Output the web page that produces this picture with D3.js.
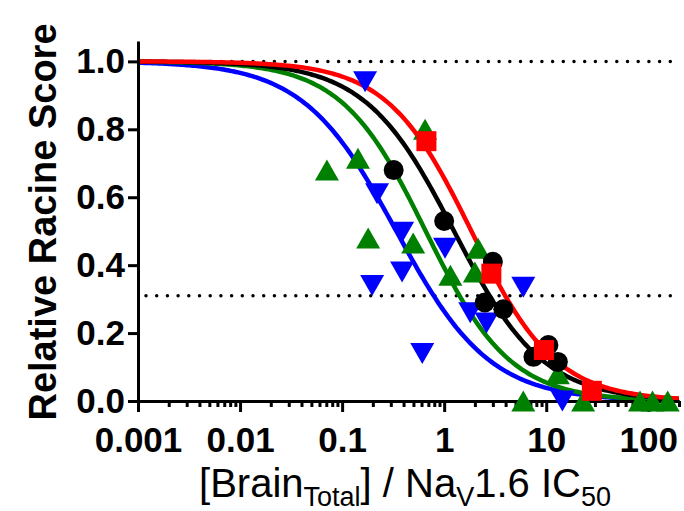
<!DOCTYPE html>
<meta charset="utf-8">
<style>
  body { margin: 0; background: #fff; }
  .axis path, .axis line { stroke: #000; stroke-width: 3px; }
  .axis text { font: bold 35px "Liberation Sans", Arial, sans-serif; fill: #000; }
  .curve { fill: none; stroke-width: 4.5px; }
  .ref { stroke: #000; stroke-width: 3.5px; stroke-linecap: round; stroke-dasharray: 0 10.7; }
</style>
<body>
<script src="https://d3js.org/d3.v7.min.js"></script>
<script>

// data
var xTicks = [0.001, 0.01, 0.1, 1, 10, 100];
var yTicks = [0, 0.2, 0.4, 0.6, 0.8, 1.0];
var refLines = [1.0, 0.31];

var blueX = [0.168, 0.22, 0.197, 0.387, 0.387, 0.61, 1.02, 1.8, 2.6, 5.96, 14.4];
var blueY = [0.94, 0.61, 0.34, 0.497, 0.38, 0.14, 0.45, 0.26, 0.23, 0.335, 0.0];
var greenX = [0.071, 0.143, 0.18, 0.497, 0.65, 1.15, 2.15, 2.0, 5.96, 13, 23, 83, 110, 155];
var greenY = [0.68, 0.715, 0.48, 0.465, 0.80, 0.37, 0.45, 0.38, 0.0, 0.08, 0.0, 0.0, 0.0, 0.0];
var blackX = [0.32, 1.0, 3.0, 2.5, 3.8, 7.5, 10.5, 13];
var blackY = [0.68, 0.53, 0.41, 0.29, 0.27, 0.13, 0.165, 0.115];
var redX = [0.67, 2.9, 9.5, 28];
var redY = [0.765, 0.375, 0.15, 0.03];

// fitted curves: IC50 and hill slope of each
var fitNames = ["blue", "green", "black", "red"];
var fitIC50 = [0.34, 0.66, 1.25, 1.85];
var fitHill = [0.95, 1.05, 1.0, 1.05];

var colors = { blue: "#0000ff", green: "#008000", black: "#000000", red: "#ff0000" };

var margin = {top: 41, left: 138},
    width = 541,
    height = 360;

var svg = d3.select("body").append("svg")
    .attr("width", 684)
    .attr("height", 511);

var g = svg.append("g")
    .attr("transform", "translate(" + margin.left + "," + margin.top + ")");

var x = d3.scaleLog().domain([0.001, 200]).range([0, width]);
var y = d3.scaleLinear().domain([0, 1.06]).range([height, 0]);

// dotted reference lines
g.selectAll(".ref").data(refLines).enter().append("line")
    .attr("class", "ref")
    .attr("x1", 8).attr("x2", width)
    .attr("y1", function(d) { return y(d); })
    .attr("y2", function(d) { return y(d); });

// curves
var line = d3.line()
    .x(function(d) { return x(d[0]); })
    .y(function(d) { return y(d[1]); });

fitNames.forEach(function(name, i) {
  var pts = d3.range(-3, Math.log10(200) + 0.001, 0.02).map(function(e) {
    var xv = Math.pow(10, e);
    return [xv, 1 / (1 + Math.pow(xv / fitIC50[i], fitHill[i]))];
  });
  g.append("path")
    .attr("class", "curve")
    .attr("stroke", colors[name])
    .attr("d", line(pts));
});

// axes
var minor = [];
xTicks.forEach(function(d) {
  for (var k = 2; k <= 9; k++) if (d * k <= 200) minor.push(d * k);
});

g.append("g")
    .attr("class", "axis")
    .attr("transform", "translate(0," + height + ")")
    .call(d3.axisBottom(x).tickValues(minor).tickSize(6).tickFormat("").tickSizeOuter(0));

g.append("g")
    .attr("class", "axis")
    .attr("transform", "translate(0," + height + ")")
    .call(d3.axisBottom(x).tickValues(xTicks).tickSize(11).tickPadding(15)
      .tickFormat(function(d) { return String(d); }).tickSizeOuter(0));

g.append("g")
    .attr("class", "axis")
    .call(d3.axisLeft(y).tickValues(yTicks).tickSize(10).tickPadding(3)
      .tickFormat(d3.format(".1f")).tickSizeOuter(0));

// markers
function tri(up) {
  var w = 12, h = 10.5, s = up ? 1 : -1;
  return "M0," + (-h * s) + "L" + w + "," + (h * s) + "L" + (-w) + "," + (h * s) + "Z";
}

function drawPts(xs, ys, color, shape) {
  var sel = g.selectAll(null).data(xs.map(function(d, i) { return [d, ys[i]]; })).enter();
  if (shape === "circle") {
    sel.append("circle").attr("r", 10)
      .attr("cx", function(d) { return x(d[0]); })
      .attr("cy", function(d) { return y(d[1]); })
      .attr("fill", color);
  } else if (shape === "square") {
    sel.append("rect").attr("width", 20).attr("height", 20)
      .attr("x", function(d) { return x(d[0]) - 10; })
      .attr("y", function(d) { return y(d[1]) - 10; })
      .attr("fill", color);
  } else {
    sel.append("path").attr("d", tri(shape === "up"))
      .attr("transform", function(d) { return "translate(" + x(d[0]) + "," + y(d[1]) + ")"; })
      .attr("fill", color);
  }
}

drawPts(blueX, blueY, colors.blue, "down");
drawPts(greenX, greenY, colors.green, "up");
drawPts(blackX, blackY, colors.black, "circle");
drawPts(redX, redY, colors.red, "square");

// axis titles
svg.append("text")
    .attr("transform", "translate(56," + 222 + ") rotate(-90)")
    .attr("text-anchor", "middle")
    .style("font", "bold 38px 'Liberation Sans', Arial, sans-serif")
    .text("Relative Racine Score");

var xt = svg.append("text")
    .attr("x", 405).attr("y", 497)
    .attr("text-anchor", "middle")
    .style("font", "40px 'Liberation Sans', Arial, sans-serif");
xt.append("tspan").text("[Brain");
xt.append("tspan").attr("dy", 9).style("font-size", "27px").text("Total");
xt.append("tspan").attr("dy", -9).text("] / Na");
xt.append("tspan").attr("dy", 9).style("font-size", "27px").text("V");
xt.append("tspan").attr("dy", -9).text("1.6 IC");
xt.append("tspan").attr("dy", 9).style("font-size", "27px").text("50");

</script>
</body>
